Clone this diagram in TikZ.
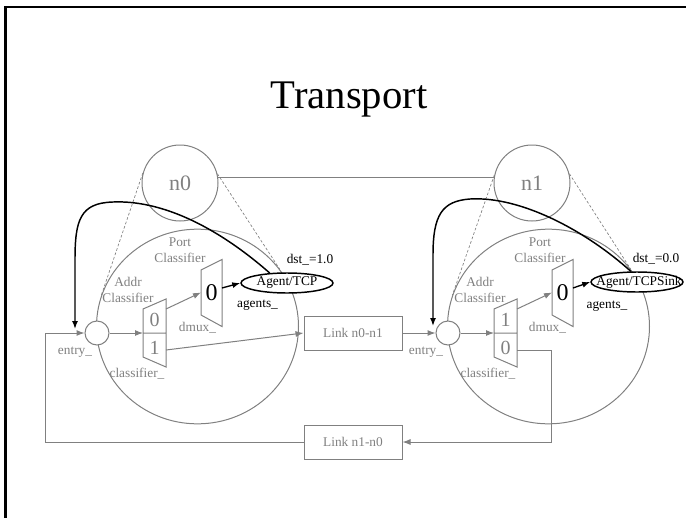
\documentclass[tikz,border=0pt]{standalone}
\usepackage{fontspec}
\setmainfont{Liberation Serif}
\usetikzlibrary{arrows.meta,shapes.geometric}

\begin{document}
\begin{tikzpicture}[x=0.75pt, y=-0.75pt,
    every node/.style={font=\fontsize{10}{12}\selectfont, inner sep=0pt},
    gline/.style={draw=gray, line width=0.75pt},
    garrow/.style={gline, -{Latex[length=6pt,width=4.5pt]}},
    barrow/.style={draw=black, line width=1pt, -{Latex[length=6pt,width=4.5pt]}},
    zoomline/.style={draw=gray, line width=0.5pt, dash pattern=on 2pt off 1.5pt},
    glabel/.style={text=gray},
    nodecirc/.style={circle, gline, minimum size=57pt, text=gray, font=\fontsize{16.5}{20}\selectfont},
    body/.style={ellipse, gline, minimum width=151.5pt, minimum height=146pt},
    entry/.style={circle, gline, fill=white, minimum size=18pt},
    linkbox/.style={rectangle, gline, fill=white, minimum width=73.5pt, minimum height=25.5pt, text=gray},
    agent/.style={ellipse, draw=black, line width=1.1pt, fill=white, minimum width=69pt, minimum height=15pt},
    slot/.style={text=gray, font=\fontsize{15}{18}\selectfont},
    bigslot/.style={text=black, font=\fontsize{18}{20}\selectfont}]
  \useasboundingbox (0,0) rectangle (686,518);

  % Frame and title
  \draw[line width=2.2pt] (5.5,522) -- (5.5,7) -- (690,7);
  \node[font=\fontsize{30.5}{34}\selectfont, anchor=base] (title) at (349,108) {Transport};

  % Nodes and their zoomed bodies
  \node[nodecirc] (n0) at (180,183) {n0};
  \node[nodecirc] (n1) at (532,183) {n1};
  \node[body] (body0) at (197.5,326.5) {};
  \node[body] (body1) at (548.5,326.5) {};
  \draw[gline] (n0.8) -- (n1.172);
  \draw[zoomline] (n0.165) -- (body0.162);
  \draw[zoomline] (n0.14) -- (body0.35);
  \draw[zoomline] (n1.168) -- (body1.162);
  \draw[zoomline] (n1.14) -- (body1.35);

  % Links
  \node[linkbox] (link01) at (353,333) {Link n0-n1};
  \node[linkbox] (link10) at (353,442) {Link n1-n0};

  % Inside n0
  \node[entry] (entry0) at (97,333) {};
  \draw[gline] (143,309) -- (166,299) -- (166,367) -- (143,357) -- cycle (143,333) -- (166,333);
  \coordinate (cls0in) at (143,333);
  \coordinate (cls0up) at (166,309);
  \coordinate (cls0lo) at (166,350);
  \node[slot] (cls0a) at (154.5,320) {0};
  \node[slot] (cls0b) at (154.5,348) {1};
  \draw[gline] (201,270) -- (222,259.5) -- (222,326.5) -- (201,315) -- cycle;
  \coordinate (dmx0in) at (201,292.5);
  \coordinate (dmx0out) at (222,288);
  \node[bigslot] (dmx0) at (211.5,293) {0};
  \node[agent] (agent0) at (287,283) {};
  \node (agent0txt) at (agent0) {Agent/TCP};
  \node[glabel, align=center] (port0) at (180,250) {Port\\Classifier};
  \node[glabel, align=center] (addr0) at (128,290) {Addr\\Classifier};
  \node[glabel] (dmxl0) at (197.5,328) {dmux\_};
  \node (agl0) at (257.5,305) {agents\_};
  \node (dst0) at (310,260) {dst\_=1.0};
  \node[glabel] (entl0) at (75,352) {entry\_};
  \node[glabel] (clsl0) at (137,374) {classifier\_};

  % Inside n1
  \node[entry] (entry1) at (448,333) {};
  \draw[gline] (494,309) -- (517,299) -- (517,367) -- (494,357) -- cycle (494,333) -- (517,333);
  \coordinate (cls1in) at (494,333);
  \coordinate (cls1up) at (517,309);
  \coordinate (cls1lo) at (517,350);
  \node[slot] (cls1a) at (505.5,320) {1};
  \node[slot] (cls1b) at (505.5,348) {0};
  \draw[gline] (552,270) -- (573,259.5) -- (573,326.5) -- (552,315) -- cycle;
  \coordinate (dmx1in) at (552,292.5);
  \coordinate (dmx1out) at (573,288);
  \node[bigslot] (dmx1) at (562.5,293) {0};
  \node[agent] (agent1) at (637,282) {};
  \node (agent1txt) at (639,282) {Agent/TCPSink};
  \node[glabel, align=center] (port1) at (540,250) {Port\\Classifier};
  \node[glabel, align=center] (addr1) at (480,290) {Addr\\Classifier};
  \node[glabel] (dmxl1) at (547.5,328) {dmux\_};
  \node (agl1) at (607,306) {agents\_};
  \node (dst1) at (656,259) {dst\_=0.0};
  \node[glabel] (entl1) at (426,352) {entry\_};
  \node[glabel] (clsl1) at (488,374) {classifier\_};

  % Packet path
  \coordinate (fb0) at (45,333);
  \coordinate (drop1) at (551.5,350);
  \draw[garrow] (link10.west) -| (fb0) -- (entry0.west);
  \draw[garrow] (entry0.east) -- (cls0in);
  \draw[garrow] (cls0up) -- (dmx0in);
  \draw[garrow] (cls0lo) -- (link01.west);
  \draw[barrow] (dmx0out) -- (agent0.west);
  \draw[garrow] (link01.east) -- (entry1.west);
  \draw[garrow] (entry1.east) -- (cls1in);
  \draw[garrow] (cls1up) -- (dmx1in);
  \draw[garrow] (cls1lo) -- (drop1) |- (link10.east);
  \draw[barrow] (dmx1out) -- (agent1.west);

  % Agents send back into entry
  \coordinate (back0) at (75,329);
  \coordinate (back1) at (433,326);
  \draw[barrow, line width=1.1pt] (agent0.150) .. controls (215,225) and (160,200) .. (113,202)
    .. controls (80,203) and (75,220) .. (75,260) -- (back0);
  \draw[barrow, line width=1.1pt] (agent1.120) .. controls (585,230) and (520,196) .. (470,199)
    .. controls (442,201) and (433,215) .. (433,255) -- (back1);
\end{tikzpicture}
\end{document}
